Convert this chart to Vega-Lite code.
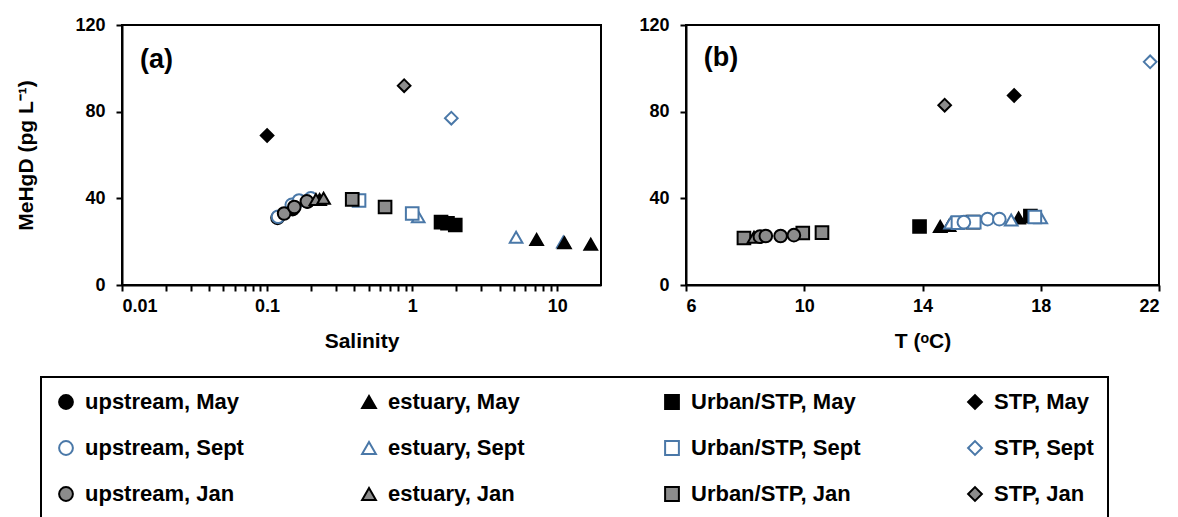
{
  "$schema": "https://vega.github.io/schema/vega-lite/v6.json",
  "autosize": {"type": "pad"},
  "padding": {"left": 14, "top": 15, "right": 0, "bottom": 0},
  "background": "white",
  "config": {
    "font": "Liberation Sans",
    "view": {"stroke": "black", "strokeWidth": 2},
    "axis": {
      "grid": false,
      "domainColor": "black", "domainWidth": 2,
      "tickColor": "black", "tickWidth": 2, "tickSize": 6,
      "labelFont": "Liberation Sans", "labelFontSize": 18, "labelFontWeight": "bold", "labelColor": "black",
      "titleFont": "Liberation Sans", "titleFontSize": 21, "titleFontWeight": "bold", "titleColor": "black"
    },
    "axisX": {"labelPadding": 6, "titlePadding": 15},
    "axisY": {"labelPadding": 11, "titlePadding": 38},
    "legend": {
      "columnPadding": 103, "rowPadding": 24, "padding": 14,
      "strokeColor": "black", "strokeWidth": 2, "fillColor": "white",
      "labelFont": "Liberation Sans", "labelFontSize": 22, "labelFontWeight": "bold", "labelColor": "black",
      "labelOffset": 8, "labelLimit": 400, "gridAlign": "all",
      "symbolSize": 190, "symbolStrokeWidth": 2
    }
  },
  "datasets": {
    "salinity": [
      {"g": "estuary, Sept", "salinity": 11, "mehg": 19.8},
      {"g": "upstream, May", "salinity": 0.118, "mehg": 31},
      {"g": "upstream, May", "salinity": 0.15, "mehg": 35},
      {"g": "upstream, May", "salinity": 0.19, "mehg": 38.5},
      {"g": "estuary, May", "salinity": 0.23, "mehg": 39.5},
      {"g": "estuary, May", "salinity": 7.2, "mehg": 21},
      {"g": "estuary, May", "salinity": 11.2, "mehg": 19.5},
      {"g": "estuary, May", "salinity": 17, "mehg": 18.8},
      {"g": "Urban/STP, May", "salinity": 1.58, "mehg": 29},
      {"g": "Urban/STP, May", "salinity": 1.75, "mehg": 28.5},
      {"g": "Urban/STP, May", "salinity": 1.98, "mehg": 27.7},
      {"g": "STP, May", "salinity": 0.1, "mehg": 69},
      {"g": "upstream, Sept", "salinity": 0.119, "mehg": 31.5},
      {"g": "upstream, Sept", "salinity": 0.148, "mehg": 37},
      {"g": "upstream, Sept", "salinity": 0.166, "mehg": 39},
      {"g": "upstream, Sept", "salinity": 0.2, "mehg": 40},
      {"g": "estuary, Sept", "salinity": 1.1, "mehg": 31.5},
      {"g": "estuary, Sept", "salinity": 5.2, "mehg": 22},
      {"g": "Urban/STP, Sept", "salinity": 0.43, "mehg": 39},
      {"g": "Urban/STP, Sept", "salinity": 1.0, "mehg": 33},
      {"g": "STP, Sept", "salinity": 1.86, "mehg": 77},
      {"g": "upstream, Jan", "salinity": 0.131, "mehg": 33},
      {"g": "upstream, Jan", "salinity": 0.154, "mehg": 36},
      {"g": "upstream, Jan", "salinity": 0.188, "mehg": 38.6},
      {"g": "estuary, Jan", "salinity": 0.217, "mehg": 39.5},
      {"g": "estuary, Jan", "salinity": 0.245, "mehg": 40},
      {"g": "Urban/STP, Jan", "salinity": 0.386, "mehg": 39.5},
      {"g": "Urban/STP, Jan", "salinity": 0.65, "mehg": 36},
      {"g": "STP, Jan", "salinity": 0.88, "mehg": 92}
    ],
    "temperature": [
      {"g": "Urban/STP, May", "temp": 13.9, "mehg": 27},
      {"g": "Urban/STP, May", "temp": 15.7, "mehg": 29},
      {"g": "Urban/STP, May", "temp": 17.65, "mehg": 31.8},
      {"g": "estuary, May", "temp": 14.6, "mehg": 27},
      {"g": "estuary, May", "temp": 14.9, "mehg": 27.5},
      {"g": "estuary, May", "temp": 17.25, "mehg": 30.9},
      {"g": "STP, May", "temp": 17.1, "mehg": 87.5},
      {"g": "estuary, Sept", "temp": 14.95, "mehg": 28.6},
      {"g": "estuary, Sept", "temp": 17.0, "mehg": 30},
      {"g": "estuary, Sept", "temp": 18.0, "mehg": 31},
      {"g": "Urban/STP, Sept", "temp": 15.2, "mehg": 28.8},
      {"g": "Urban/STP, Sept", "temp": 15.75, "mehg": 29},
      {"g": "Urban/STP, Sept", "temp": 17.8, "mehg": 31.4},
      {"g": "upstream, Sept", "temp": 15.4, "mehg": 29},
      {"g": "upstream, Sept", "temp": 16.2, "mehg": 30.4},
      {"g": "upstream, Sept", "temp": 16.6, "mehg": 30.4},
      {"g": "STP, Sept", "temp": 21.7, "mehg": 103},
      {"g": "Urban/STP, Jan", "temp": 7.96, "mehg": 21.7},
      {"g": "Urban/STP, Jan", "temp": 9.95, "mehg": 24},
      {"g": "Urban/STP, Jan", "temp": 10.6, "mehg": 24.2},
      {"g": "estuary, Jan", "temp": 8.3, "mehg": 22},
      {"g": "upstream, Jan", "temp": 8.5, "mehg": 22.3},
      {"g": "upstream, Jan", "temp": 8.7, "mehg": 22.6},
      {"g": "upstream, Jan", "temp": 9.2, "mehg": 22.6},
      {"g": "upstream, Jan", "temp": 9.65, "mehg": 23},
      {"g": "STP, Jan", "temp": 14.75, "mehg": 83}
    ]
  },
  "spacing": 85,
  "bounds": "flush",
  "resolve": {
    "scale": {"x": "independent", "y": "independent", "shape": "shared", "fill": "shared", "stroke": "shared"},
    "legend": {"shape": "shared", "fill": "shared", "stroke": "shared"}
  },
  "hconcat": [
    {
      "width": 479,
      "height": 260,
      "layer": [
        {
          "data": {"name": "salinity"},
          "mark": {"type": "point", "size": 160, "strokeWidth": 2, "opacity": 1},
          "encoding": {
            "x": {
              "field": "salinity", "type": "quantitative",
              "scale": {"type": "log", "domain": [0.01, 20], "nice": false},
              "axis": {
                "title": "Salinity",
                "values": [0.01, 0.02, 0.03, 0.04, 0.05, 0.06, 0.07, 0.08, 0.09, 0.1, 0.2, 0.3, 0.4, 0.5, 0.6, 0.7, 0.8, 0.9, 1, 2, 3, 4, 5, 6, 7, 8, 9, 10],
                "format": "~g",
                "labelOverlap": false,
                "labelExpr": "indexof([0.01, 0.1, 1, 10], datum.value) >= 0 ? datum.label : ''"
              }
            },
            "y": {
              "field": "mehg", "type": "quantitative",
              "scale": {"domain": [0, 120], "nice": false},
              "axis": {"title": "MeHgD (pg L⁻¹)", "values": [0, 40, 80, 120]}
            },
            "shape": {
              "field": "g", "type": "nominal",
              "scale": {
                "domain": ["upstream, May", "upstream, Sept", "upstream, Jan", "estuary, May", "estuary, Sept", "estuary, Jan", "Urban/STP, May", "Urban/STP, Sept", "Urban/STP, Jan", "STP, May", "STP, Sept", "STP, Jan"],
                "range": ["circle", "circle", "circle", "triangle-up", "triangle-up", "triangle-up", "square", "square", "square", "diamond", "diamond", "diamond"]
              },
              "legend": {"orient": "none", "legendX": -81, "legendY": 352, "columns": 4, "title": null}
            },
            "fill": {
              "field": "g", "type": "nominal",
              "scale": {
                "domain": ["upstream, May", "upstream, Sept", "upstream, Jan", "estuary, May", "estuary, Sept", "estuary, Jan", "Urban/STP, May", "Urban/STP, Sept", "Urban/STP, Jan", "STP, May", "STP, Sept", "STP, Jan"],
                "range": ["black", "white", "#8c8c8c", "black", "white", "#8c8c8c", "black", "white", "#8c8c8c", "black", "white", "#8c8c8c"]
              },
              "legend": {"orient": "none", "legendX": -81, "legendY": 352, "columns": 4, "title": null}
            },
            "stroke": {
              "field": "g", "type": "nominal",
              "scale": {
                "domain": ["upstream, May", "upstream, Sept", "upstream, Jan", "estuary, May", "estuary, Sept", "estuary, Jan", "Urban/STP, May", "Urban/STP, Sept", "Urban/STP, Jan", "STP, May", "STP, Sept", "STP, Jan"],
                "range": ["black", "#4a78a8", "black", "black", "#4a78a8", "black", "black", "#4a78a8", "black", "black", "#4a78a8", "black"]
              },
              "legend": {"orient": "none", "legendX": -81, "legendY": 352, "columns": 4, "title": null}
            }
          }
        },
        {
          "data": {"values": [{"panel": "(a)"}]},
          "mark": {"type": "text", "fontSize": 27, "fontWeight": "bold", "font": "Liberation Sans", "align": "left", "baseline": "middle", "color": "black"},
          "encoding": {
            "x": {"datum": 0.0133},
            "y": {"datum": 104},
            "text": {"field": "panel"}
          }
        }
      ]
    },
    {
      "width": 473,
      "height": 260,
      "layer": [
        {
          "data": {"name": "temperature"},
          "mark": {"type": "point", "size": 160, "strokeWidth": 2, "opacity": 1},
          "encoding": {
            "x": {
              "field": "temp", "type": "quantitative",
              "scale": {"domain": [6, 22], "nice": false},
              "axis": {"title": "T (ᵒC)", "values": [6, 10, 14, 18, 22]}
            },
            "y": {
              "field": "mehg", "type": "quantitative",
              "scale": {"domain": [0, 120], "nice": false},
              "axis": {"title": null, "values": [0, 40, 80, 120]}
            },
            "shape": {
              "field": "g", "type": "nominal",
              "scale": {
                "domain": ["upstream, May", "upstream, Sept", "upstream, Jan", "estuary, May", "estuary, Sept", "estuary, Jan", "Urban/STP, May", "Urban/STP, Sept", "Urban/STP, Jan", "STP, May", "STP, Sept", "STP, Jan"],
                "range": ["circle", "circle", "circle", "triangle-up", "triangle-up", "triangle-up", "square", "square", "square", "diamond", "diamond", "diamond"]
              },
              "legend": {"orient": "none", "legendX": -81, "legendY": 352, "columns": 4, "title": null}
            },
            "fill": {
              "field": "g", "type": "nominal",
              "scale": {
                "domain": ["upstream, May", "upstream, Sept", "upstream, Jan", "estuary, May", "estuary, Sept", "estuary, Jan", "Urban/STP, May", "Urban/STP, Sept", "Urban/STP, Jan", "STP, May", "STP, Sept", "STP, Jan"],
                "range": ["black", "white", "#8c8c8c", "black", "white", "#8c8c8c", "black", "white", "#8c8c8c", "black", "white", "#8c8c8c"]
              },
              "legend": {"orient": "none", "legendX": -81, "legendY": 352, "columns": 4, "title": null}
            },
            "stroke": {
              "field": "g", "type": "nominal",
              "scale": {
                "domain": ["upstream, May", "upstream, Sept", "upstream, Jan", "estuary, May", "estuary, Sept", "estuary, Jan", "Urban/STP, May", "Urban/STP, Sept", "Urban/STP, Jan", "STP, May", "STP, Sept", "STP, Jan"],
                "range": ["black", "#4a78a8", "black", "black", "#4a78a8", "black", "black", "#4a78a8", "black", "black", "#4a78a8", "black"]
              },
              "legend": {"orient": "none", "legendX": -81, "legendY": 352, "columns": 4, "title": null}
            }
          }
        },
        {
          "data": {"values": [{"panel": "(b)"}]},
          "mark": {"type": "text", "fontSize": 27, "fontWeight": "bold", "font": "Liberation Sans", "align": "left", "baseline": "middle", "color": "black"},
          "encoding": {
            "x": {"datum": 6.6},
            "y": {"datum": 105},
            "text": {"field": "panel"}
          }
        }
      ]
    }
  ]
}
